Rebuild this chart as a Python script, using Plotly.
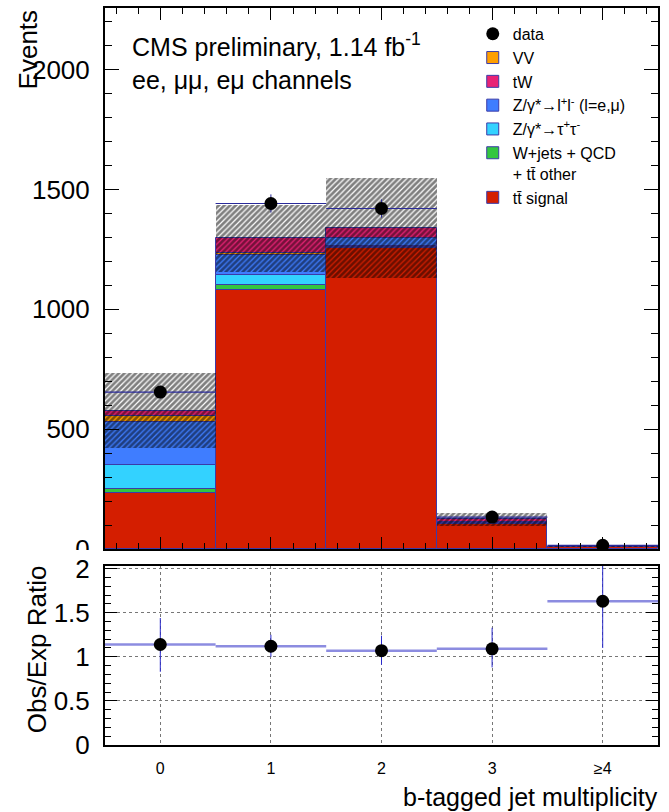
import plotly.graph_objects as go

# ---------------- data ----------------
bin_centers = [0, 1, 2, 3, 4]
bin_labels = ["0", "1", "2", "3", "≥4"]

tt_signal = [233, 1079, 1258, 104, 8.0]
wjets_qcd = [17, 21, 3, 2, 0.3]
z_tautau = [100, 42, 3, 1, 0.1]
z_ll = [179, 83, 33, 6, 0.3]
vv = [25, 10, 2, 1, 0.1]
tw = [23, 61, 41, 9, 0.5]
mc_unc = [157, 140, 208, 26, 3]

data = [655, 1442, 1421, 133, 15]
data_err = [26, 38, 38, 12, 4]

ratio = [1.14, 1.12, 1.07, 1.09, 1.63]
ratio_err_up = [0.30, 0.13, 0.17, 0.24, 0.40]
ratio_err_dn = [0.31, 0.12, 0.16, 0.21, 0.53]

main_yticks = [0, 500, 1000, 1500, 2000]
ratio_yticks = [0, 0.5, 1, 1.5, 2]
ratio_yticklabels = ["0", "0.5", "1", "1.5", "2"]

# ---------------- styling ----------------
FONT = "Liberation Sans, Arial, Helvetica, sans-serif"
OUTLINE = "#3b3ba8"
components = [
    ("tt\u0304 signal", tt_signal, "#d41e00", 7),
    ("W+jets + QCD<br>+ tt\u0304 other", wjets_qcd, "#33c640", 6),
    ("Z/γ*→τ<sup>+</sup>τ<sup>-</sup>", z_tautau, "#33d2ff", 5),
    ("Z/γ*→l<sup>+</sup>l<sup>-</sup> (l=e,μ)", z_ll, "#3f7dff", 4),
    ("VV", vv, "#ff9f00", 2),
    ("tW", tw, "#e82275", 3),
]

fig = go.Figure()

base = [0.0] * len(bin_centers)
for name, vals, col, rank in components:
    fig.add_trace(go.Bar(
        x=bin_centers, y=vals, base=list(base), width=1.0,
        marker=dict(color=col, line=dict(color=OUTLINE, width=1)),
        name=name, legendrank=rank, xaxis="x", yaxis="y",
        hoverinfo="skip",
    ))
    base = [b + v for b, v in zip(base, vals)]
total = base

# uncertainty band (hatched)
fig.add_trace(go.Bar(
    x=bin_centers, y=[2 * u for u in mc_unc],
    base=[t - u for t, u in zip(total, mc_unc)], width=1.0,
    marker=dict(color="rgba(0,0,0,0)", line=dict(width=0),
                pattern=dict(shape="/", fgcolor="black", bgcolor="rgba(0,0,0,0)",
                             size=4, solidity=0.7, fillmode="overlay")),
    showlegend=False, xaxis="x", yaxis="y", hoverinfo="skip",
))

# data histogram line (horizontal) + points
fig.add_trace(go.Scatter(
    x=bin_centers, y=data, mode="markers",
    marker=dict(size=0.1, color="rgba(0,0,0,0)"),
    error_x=dict(type="constant", value=0.5, color="#2a2a9a", thickness=1.2, width=0),
    showlegend=False, xaxis="x", yaxis="y", hoverinfo="skip",
))
fig.add_trace(go.Scatter(
    x=bin_centers, y=data, mode="markers",
    marker=dict(size=13, color="black"),
    error_y=dict(type="data", array=data_err, color="#2a2a9a", thickness=1, width=0),
    name="data", legendrank=1, xaxis="x", yaxis="y", hoverinfo="skip",
))

# ratio panel
fig.add_trace(go.Scatter(
    x=bin_centers, y=ratio, mode="markers",
    marker=dict(size=13, color="black"),
    error_x=dict(type="constant", value=0.5, color="#8c8ce0", thickness=2.5, width=0),
    error_y=dict(type="data", array=ratio_err_up, arrayminus=ratio_err_dn,
                 color="#2a2acc", thickness=1, width=0),
    showlegend=False, xaxis="x2", yaxis="y2", hoverinfo="skip",
))

axis_common = dict(showline=True, linecolor="black", linewidth=2, mirror="allticks",
                   ticks="inside", tickcolor="black", zeroline=False, automargin=False)

fig.update_layout(
    width=669, height=812, autosize=False,
    margin=dict(l=105, r=11, t=8, b=67, autoexpand=False),
    paper_bgcolor="white", plot_bgcolor="white",
    barmode="overlay", bargap=0,
    font=dict(family=FONT, color="black"),
    showlegend=True,
    legend=dict(x=0.665, y=0.988, xanchor="left", yanchor="top",
                bgcolor="rgba(0,0,0,0)", borderwidth=0,
                font=dict(size=16, family=FONT), valign="top",
                traceorder="normal", itemwidth=30),
    xaxis=dict(domain=[0, 1], range=[-0.5, 4.5], anchor="y",
               tickvals=bin_centers, showticklabels=False, ticklen=12,
               showgrid=False,
               minor=dict(dtick=0.2, tick0=0, ticklen=6, ticks="inside", tickcolor="black"),
               **axis_common),
    yaxis=dict(domain=[0.266, 1], range=[0, 2258], anchor="x",
               tickvals=main_yticks, ticklen=14, showgrid=False,
               tickfont=dict(size=26), ticklabelstandoff=8,
               minor=dict(dtick=100, tick0=0, ticklen=7, ticks="inside", tickcolor="black"),
               **axis_common),
    xaxis2=dict(domain=[0, 1], range=[-0.5, 4.5], anchor="y2",
                tickvals=bin_centers, ticktext=bin_labels, ticklen=0,
                tickfont=dict(size=16), ticklabelstandoff=8,
                showgrid=True, gridcolor="#777777", griddash="dot", gridwidth=1,
                **axis_common),
    yaxis2=dict(domain=[0, 0.2429], range=[0, 2.03], anchor="x2",
                tickvals=ratio_yticks, ticktext=ratio_yticklabels,
                ticklen=12, tickfont=dict(size=26), ticklabelstandoff=8,
                showgrid=True, gridcolor="#777777", griddash="dot", gridwidth=1,
                minor=dict(dtick=0.1, tick0=0, ticklen=6, ticks="inside", tickcolor="black",
                           showgrid=False),
                **axis_common),
)

# white strip hiding the lower part of the main panel's "0" label (as in the original)
fig.add_shape(type="rect", xref="paper", yref="paper", layer="above",
              x0=-0.12, x1=-0.006, y0=0.251, y1=0.2645,
              fillcolor="white", line=dict(width=0))

fig.add_annotation(text="CMS preliminary, 1.14 fb<sup>-1</sup>", xref="paper", yref="paper",
                   x=0.045, y=0.950, xanchor="left", yanchor="middle",
                   showarrow=False, font=dict(size=25, family=FONT))
fig.add_annotation(text="ee, μμ, eμ channels", xref="paper", yref="paper",
                   x=0.045, y=0.902, xanchor="left", yanchor="middle",
                   showarrow=False, font=dict(size=25, family=FONT))
fig.add_annotation(text="Events", xref="paper", yref="paper", textangle=-90,
                   x=-0.139, y=0.944, xanchor="center", yanchor="middle",
                   showarrow=False, font=dict(size=26, family=FONT))
fig.add_annotation(text="Obs/Exp Ratio", xref="paper", yref="paper", textangle=-90,
                   x=-0.123, y=0.130, xanchor="center", yanchor="middle",
                   showarrow=False, font=dict(size=26, family=FONT))
fig.add_annotation(text="b-tagged jet multiplicity", xref="paper", yref="paper",
                   x=1.003, y=-0.07, xanchor="right", yanchor="middle",
                   showarrow=False, font=dict(size=25, family=FONT))

fig.write_html("out.html", config={"displayModeBar": False},
               post_script="document.body.style.margin='0';document.body.style.overflow='hidden';")
